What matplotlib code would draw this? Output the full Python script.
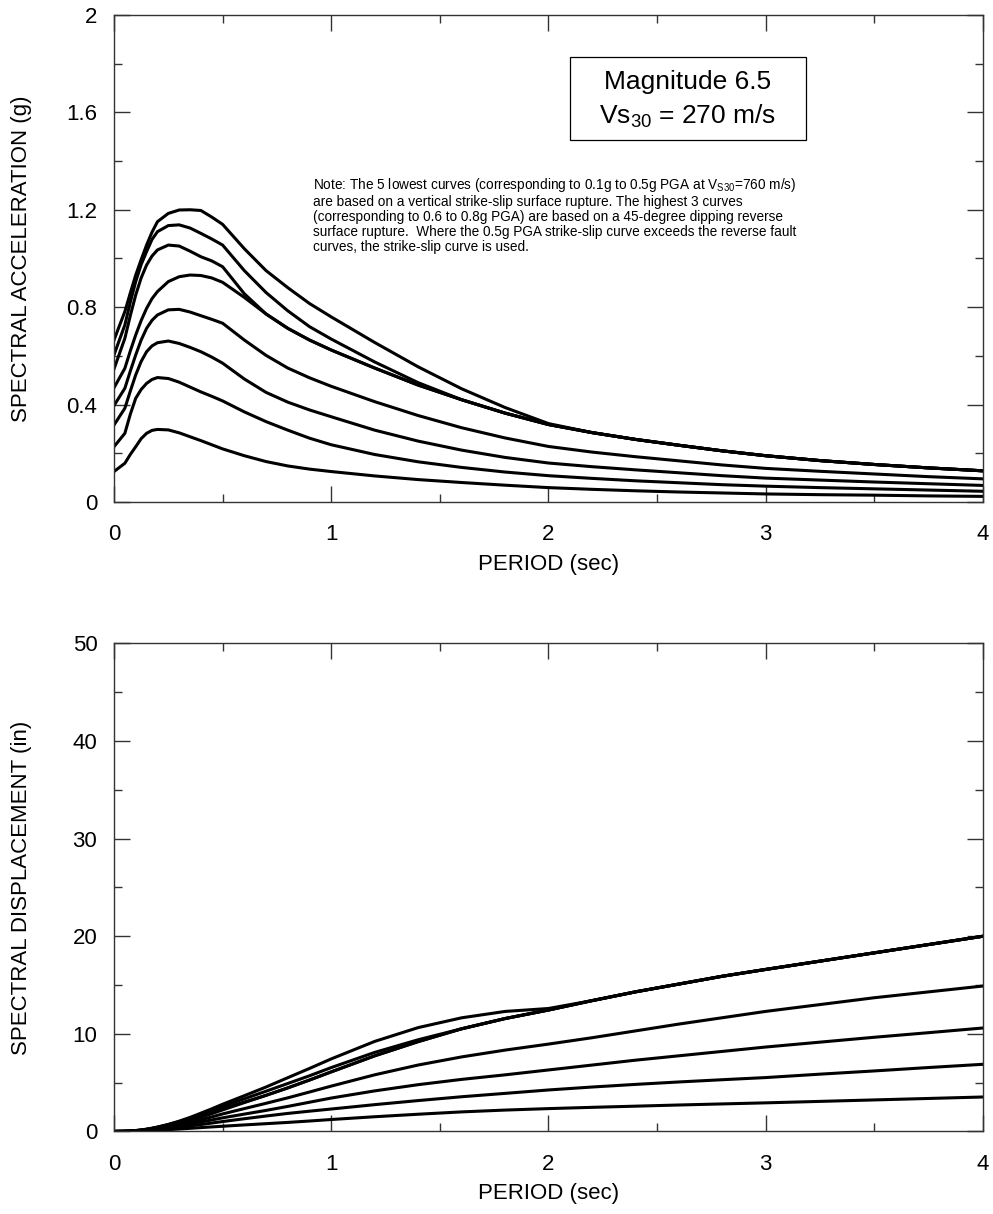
import numpy as np
import matplotlib.pyplot as plt
from matplotlib.patches import Rectangle
from matplotlib.ticker import MultipleLocator, FuncFormatter

plt.rcParams["font.family"] = ["Liberation Sans", "DejaVu Sans"]
plt.rcParams["mathtext.fontset"] = "custom"
plt.rcParams["mathtext.rm"] = "Liberation Sans"
plt.rcParams["mathtext.it"] = "Liberation Sans"

period = [0, 0.05, 0.075, 0.1, 0.125, 0.15, 0.175, 0.2, 0.25, 0.3, 0.35, 0.4, 0.45,
          0.5, 0.6, 0.7, 0.8, 0.9, 1.0, 1.2, 1.4, 1.6, 1.8, 2.0, 2.2, 2.4, 2.6,
          2.8, 3.0, 3.25, 3.5, 3.75, 4.0]

# Spectral acceleration (g), curves for 0.1g .. 0.8g PGA (at Vs30 = 760 m/s)
sa_01 = [0.125, 0.159, 0.195, 0.227, 0.260, 0.282, 0.294, 0.298, 0.296, 0.284, 0.268,
         0.252, 0.235, 0.218, 0.190, 0.166, 0.148, 0.135, 0.125, 0.107, 0.092, 0.080,
         0.069, 0.059, 0.052, 0.046, 0.041, 0.037, 0.033, 0.030, 0.028, 0.025, 0.023]
sa_02 = [0.227, 0.282, 0.360, 0.426, 0.462, 0.487, 0.503, 0.511, 0.507, 0.492, 0.472,
         0.452, 0.434, 0.415, 0.370, 0.330, 0.295, 0.262, 0.235, 0.195, 0.165, 0.142,
         0.123, 0.108, 0.097, 0.087, 0.079, 0.071, 0.065, 0.059, 0.054, 0.049, 0.044]
sa_03 = [0.316, 0.385, 0.455, 0.522, 0.577, 0.617, 0.641, 0.654, 0.661, 0.651, 0.635,
         0.617, 0.595, 0.570, 0.505, 0.450, 0.410, 0.378, 0.350, 0.295, 0.250, 0.213,
         0.183, 0.160, 0.145, 0.132, 0.120, 0.108, 0.098, 0.090, 0.082, 0.075, 0.068]
sa_04 = [0.396, 0.467, 0.537, 0.604, 0.665, 0.713, 0.746, 0.768, 0.789, 0.791, 0.780,
         0.765, 0.750, 0.734, 0.665, 0.602, 0.550, 0.510, 0.475, 0.412, 0.355, 0.305,
         0.263, 0.228, 0.205, 0.186, 0.169, 0.152, 0.138, 0.126, 0.115, 0.104, 0.095]
sa_05 = [0.469, 0.549, 0.620, 0.686, 0.745, 0.795, 0.835, 0.864, 0.905, 0.925, 0.932,
         0.930, 0.920, 0.902, 0.840, 0.772, 0.713, 0.665, 0.624, 0.550, 0.480, 0.420,
         0.365, 0.318, 0.285, 0.257, 0.233, 0.210, 0.190, 0.170, 0.154, 0.140, 0.128]
sa_06 = [0.546, 0.672, 0.765, 0.850, 0.920, 0.973, 1.010, 1.035, 1.055, 1.051, 1.030,
         1.007, 0.990, 0.966, 0.855, 0.772, 0.713, 0.665, 0.624, 0.550, 0.480, 0.420,
         0.365, 0.318, 0.285, 0.257, 0.233, 0.210, 0.190, 0.170, 0.154, 0.140, 0.128]
sa_07 = [0.604, 0.727, 0.820, 0.905, 0.975, 1.028, 1.078, 1.110, 1.135, 1.138, 1.125,
         1.103, 1.080, 1.055, 0.950, 0.860, 0.785, 0.720, 0.669, 0.575, 0.490, 0.420,
         0.365, 0.318, 0.285, 0.257, 0.233, 0.210, 0.190, 0.170, 0.154, 0.140, 0.128]
sa_08 = [0.665, 0.782, 0.858, 0.932, 0.995, 1.055, 1.108, 1.151, 1.185, 1.199, 1.200,
         1.197, 1.170, 1.140, 1.040, 0.950, 0.880, 0.815, 0.760, 0.655, 0.555, 0.465,
         0.388, 0.322, 0.285, 0.257, 0.233, 0.210, 0.190, 0.170, 0.154, 0.140, 0.128]

# Spectral displacement (in), same curves
sd_01 = [0, 0.004, 0.011, 0.022, 0.040, 0.062, 0.088, 0.117, 0.181, 0.250, 0.321,
         0.394, 0.465, 0.533, 0.669, 0.796, 0.926, 1.069, 1.223, 1.507, 1.764, 2.003,
         2.190, 2.340, 2.470, 2.590, 2.710, 2.820, 2.930, 3.080, 3.230, 3.380, 3.530]
sd_02 = [0, 0.007, 0.020, 0.042, 0.071, 0.107, 0.151, 0.200, 0.310, 0.433, 0.566,
         0.707, 0.860, 1.015, 1.303, 1.581, 1.847, 2.076, 2.298, 2.746, 3.163, 3.555,
         3.900, 4.250, 4.550, 4.820, 5.070, 5.300, 5.520, 5.870, 6.200, 6.550, 6.880]
sd_03 = [0, 0.009, 0.025, 0.051, 0.088, 0.136, 0.192, 0.256, 0.404, 0.573, 0.761,
         0.966, 1.178, 1.394, 1.778, 2.157, 2.566, 2.994, 3.423, 4.155, 4.792, 5.333,
         5.799, 6.300, 6.800, 7.300, 7.750, 8.200, 8.650, 9.150, 9.650, 10.120, 10.600]
sd_04 = [0, 0.011, 0.030, 0.059, 0.102, 0.157, 0.223, 0.300, 0.482, 0.696, 0.935,
         1.197, 1.485, 1.795, 2.341, 2.885, 3.443, 4.040, 4.646, 5.802, 6.805, 7.636,
         8.334, 8.950, 9.600, 10.300, 11.000, 11.650, 12.300, 13.000, 13.700, 14.300, 14.900]
sd_05 = [0, 0.013, 0.034, 0.067, 0.114, 0.175, 0.250, 0.338, 0.553, 0.814, 1.117,
         1.455, 1.822, 2.205, 2.958, 3.700, 4.463, 5.268, 6.103, 7.746, 9.201, 10.516,
         11.566, 12.440, 13.400, 14.300, 15.100, 15.900, 16.600, 17.450, 18.300, 19.150, 20.000]
sd_06 = [0, 0.016, 0.042, 0.083, 0.141, 0.214, 0.303, 0.405, 0.645, 0.925, 1.234,
         1.576, 1.961, 2.362, 3.010, 3.700, 4.463, 5.268, 6.103, 7.746, 9.201, 10.516,
         11.566, 12.440, 13.400, 14.300, 15.100, 15.900, 16.600, 17.450, 18.300, 19.150, 20.000]
sd_07 = [0, 0.018, 0.045, 0.089, 0.149, 0.226, 0.323, 0.434, 0.694, 1.002, 1.348,
         1.726, 2.139, 2.580, 3.345, 4.121, 4.914, 5.704, 6.543, 8.098, 9.393, 10.516,
         11.566, 12.440, 13.400, 14.300, 15.100, 15.900, 16.600, 17.450, 18.300, 19.150, 20.000]
sd_08 = [0, 0.019, 0.047, 0.091, 0.152, 0.232, 0.332, 0.450, 0.724, 1.055, 1.438,
         1.873, 2.317, 2.787, 3.662, 4.553, 5.508, 6.456, 7.433, 9.225, 10.639, 11.642,
         12.295, 12.597, 13.400, 14.300, 15.100, 15.900, 16.600, 17.450, 18.300, 19.150, 20.000]

sa_curves = [sa_01, sa_02, sa_03, sa_04, sa_05, sa_06, sa_07, sa_08]
sd_curves = [sd_01, sd_02, sd_03, sd_04, sd_05, sd_06, sd_07, sd_08]

note = ("Note: The 5 lowest curves (corresponding to 0.1g to 0.5g PGA at V$_{\\mathrm{S30}}$=760 m/s)\n"
        "are based on a vertical strike-slip surface rupture. The highest 3 curves\n"
        "(corresponding to 0.6 to 0.8g PGA) are based on a 45-degree dipping reverse\n"
        "surface rupture.  Where the 0.5g PGA strike-slip curve exceeds the reverse fault\n"
        "curves, the strike-slip curve is used.")

AX_COLOR = "#333333"


def style_axis(ax, ymax, ymajor, yminor, ylabel):
    ax.set_xlim(0, 4)
    ax.set_ylim(0, ymax)
    ax.xaxis.set_major_locator(MultipleLocator(1))
    ax.xaxis.set_minor_locator(MultipleLocator(0.5))
    ax.yaxis.set_major_locator(MultipleLocator(ymajor))
    ax.yaxis.set_minor_locator(MultipleLocator(yminor))
    ax.yaxis.set_major_formatter(FuncFormatter(lambda v, p: f"{v:g}"))
    ax.tick_params(which="both", direction="in", top=True, right=True,
                   color=AX_COLOR, width=1.0, labelsize=16)
    ax.tick_params(which="major", length=11.5)
    ax.tick_params(which="minor", length=6)
    ax.tick_params(axis="x", pad=16)
    ax.tick_params(axis="y", pad=12)
    for s in ax.spines.values():
        s.set_color(AX_COLOR)
        s.set_linewidth(1.0)
    ax.set_xlabel("PERIOD (sec)", fontsize=16)
    ax.set_ylabel(ylabel, fontsize=16)
    ax.xaxis.set_label_coords(0.5, -0.106)
    ax.yaxis.set_label_coords(-0.094, 0.5)


fig = plt.figure(figsize=(9.93, 12.14), dpi=100)
ax1 = fig.add_axes([0.1148, 0.5865, 0.8751, 0.4012])
ax2 = fig.add_axes([0.1148, 0.0680, 0.8751, 0.4020])

# Top: spectral acceleration
for sa in sa_curves:
    ax1.plot(period, sa, color="black", linewidth=2.2, solid_joinstyle="round")
style_axis(ax1, 2, 0.4, 0.2, "SPECTRAL ACCELERATION (g)")

ax1.add_patch(Rectangle((0.5247, 0.7433), 0.2716, 0.1704, transform=ax1.transAxes,
                        fill=False, edgecolor="black", linewidth=0.9))
ax1.text(0.6600, 0.8250, "Magnitude 6.5\nVs$_{30}$ = 270 m/s", transform=ax1.transAxes,
         ha="center", va="center", fontsize=19, linespacing=1.45)
ax1.text(0.229, 0.670, note, transform=ax1.transAxes, ha="left", va="top",
         fontsize=9.8, linespacing=1.1)

# Bottom: spectral displacement
for sd in sd_curves:
    ax2.plot(period, sd, color="black", linewidth=2.2, solid_joinstyle="round")
style_axis(ax2, 50, 10, 5, "SPECTRAL DISPLACEMENT (in)")

fig.savefig("out.png", dpi=100)
